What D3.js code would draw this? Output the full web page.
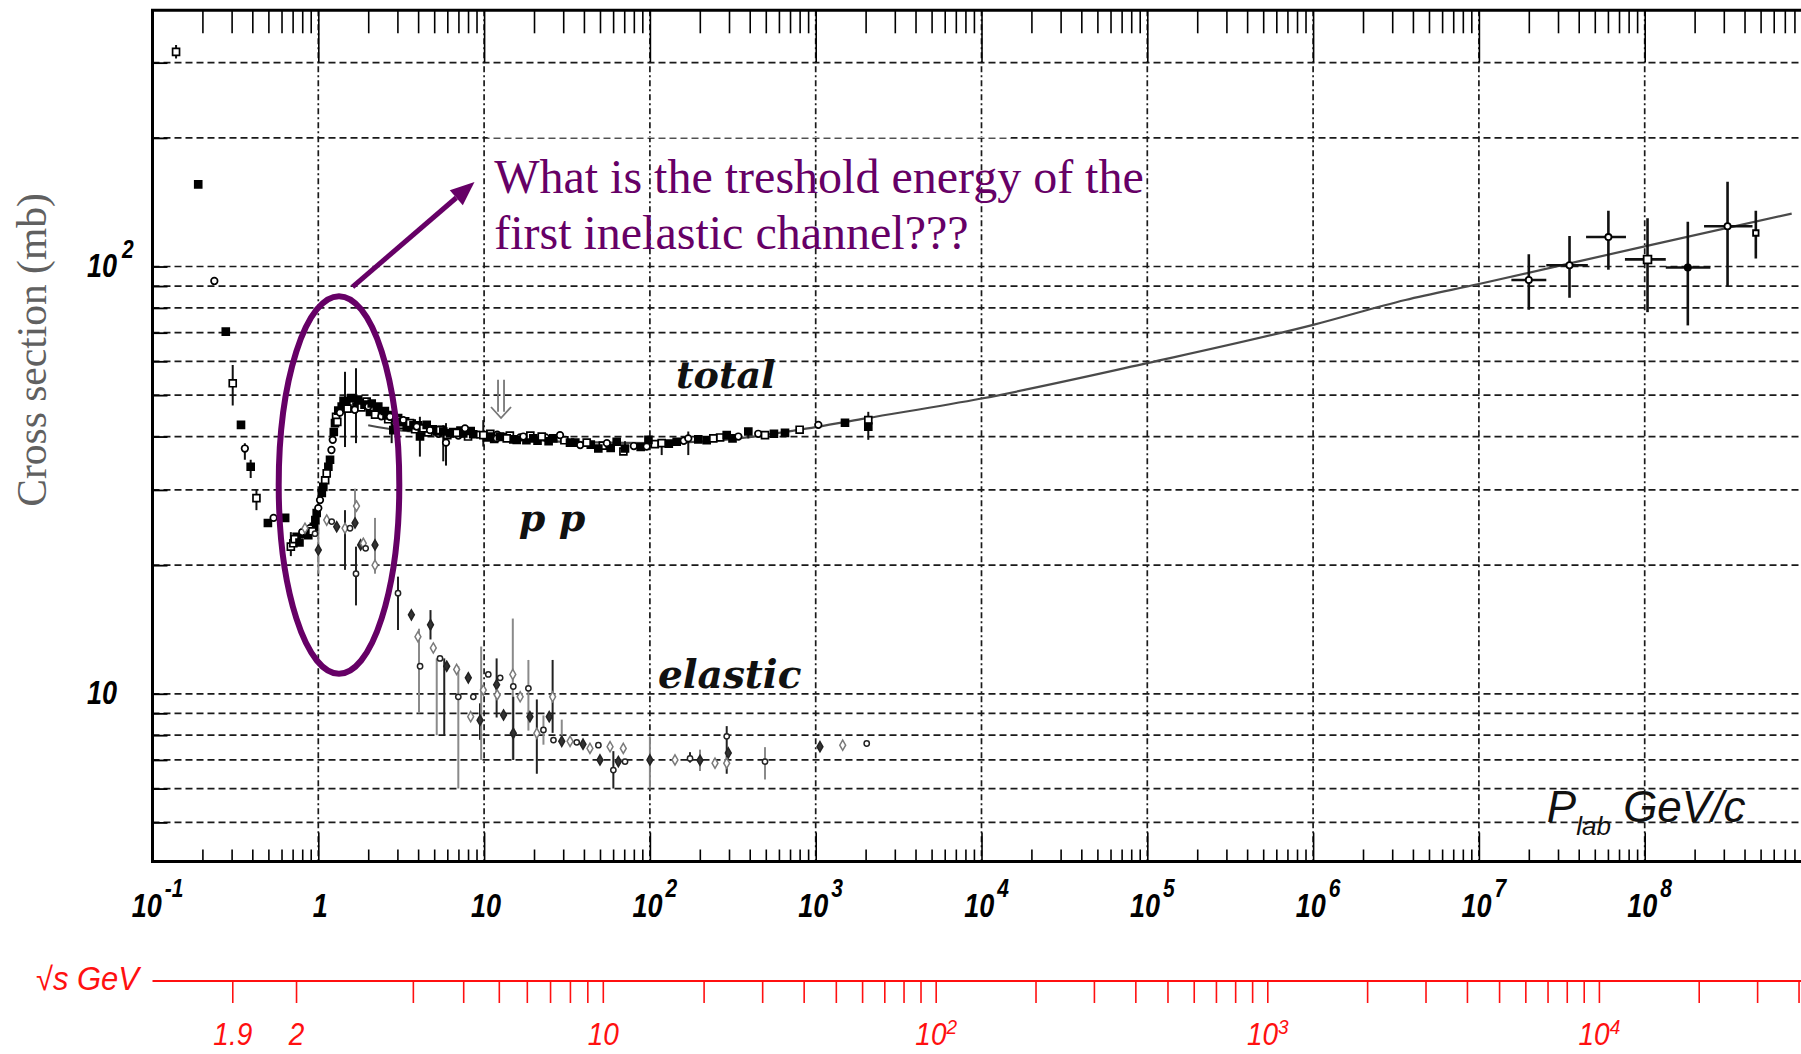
<!DOCTYPE html>
<html>
<head>
<meta charset="utf-8">
<script src="https://cdn.jsdelivr.net/npm/d3@7"></script>
<style>
  html, body { margin: 0; padding: 0; background: #fff; overflow: hidden; }
  svg { display: block; }
</style>
</head>
<body>
<svg id="chart" width="1801" height="1054"></svg>
<script>
// ---------------------------------------------------------------
// pp cross sections versus laboratory beam momentum
// ---------------------------------------------------------------

// Total cross section (momentum in GeV/c, sigma in mb)
const totalMomentum = [
  0.1387, 0.1887, 0.236, 0.2767, 0.3047, 0.3418, 0.3606, 0.391, 0.4236, 0.4966,
  0.5375, 0.631, 0.683, 0.74, 0.844, 0.94, 0.707, 0.812, 0.891, 0.978,
  0.72, 0.77, 0.80, 0.87, 0.92, 0.96, 1.0, 1.05, 1.1, 1.15,
  1.2, 1.24, 1.28, 1.32,
  1.024, 1.072, 1.124, 1.177, 1.222, 1.261, 1.302, 1.384, 1.483, 1.55,
  1.626, 1.70, 1.784, 1.86, 1.958, 2.05, 2.15, 2.25, 2.35, 2.466,
  1.35, 1.42, 1.5, 1.58, 1.66, 1.74, 1.82, 1.9, 2.0, 2.1,
  2.2, 2.3, 2.4, 2.52, 2.64, 2.77, 2.9, 3.03, 3.18, 3.34,
  3.5, 3.66, 3.84, 4.0, 4.2, 4.4, 4.6, 4.9, 5.3, 5.55,
  6.0, 6.5, 7.0, 7.2, 8.0, 8.3, 9.2, 10.4, 10.9, 11.5,
  12.0, 13.0, 14.3, 15.0, 16.5, 18.0, 19.0, 21.0, 23.5, 24.5,
  30.5, 35.5, 38.0, 44.0, 52.0, 58.0, 80, 88, 107, 130,
  160, 220, 265, 315, 450, 560, 800,
  2.58, 2.706, 2.835, 2.971, 3.1, 3.256, 3.414, 3.573, 3.75, 3.922,
  4.106, 4.299, 4.506, 4.718, 5.178, 5.42, 5.675, 5.892, 6.228, 6.835,
  7.489, 7.668, 8.6, 9.89, 11.0, 11.91, 12.47, 13.69, 15.73, 17.24,
  19.81, 22.26, 26.15, 28.7, 32.97, 41.58, 48.85, 55, 63.07, 69.2,
  70.76, 95.6, 98.0, 117.8, 145.1, 170.4, 195.8, 241.2, 290.6, 341.4,
  392.3, 494.5, 652.9, 1037, 1502, 2076, 2076
];
const totalSigma = [
  318, 155.7, 92.5, 70.4, 53.3, 42.6, 37.5, 34.0, 28.7, 25.1,
  25.8, 25.8, 22.1, 23.3, 24.2, 24.6, 22.5, 23.7, 24.4, 26.5,
  23.0, 22.6, 23.9, 23.5, 24.0, 25.5, 27.2, 29.5, 31.6, 34.0,
  37.2, 41.0, 44.5, 46.0,
  28.4, 30.5, 32.8, 35.3, 39.3, 43.0, 43.3, 47.0, 47.8, 48.3,
  47.8, 47.0, 47.8, 48.0, 48.3, 45.7, 46.6, 46.6, 45.5, 45.7,
  45.5, 48.5, 46.5, 49.2, 46.2, 48.8, 46.8, 47.5, 47.0, 47.8,
  45.0, 47.0, 44.6, 45.9, 43.9, 44.9, 43.0, 44.2, 42.6, 43.4,
  42.0, 42.9, 41.6, 42.5, 41.2, 41.9, 40.9, 41.6, 40.6, 41.5,
  40.3, 41.0, 40.2, 41.3, 40.0, 41.2, 40.4, 39.8, 40.6, 39.5,
  40.4, 39.9, 40.2, 39.4, 39.8, 39.2, 40.2, 39.1, 39.8, 39.0,
  39.2, 38.7, 38.2, 38.3, 38.1, 37.6, 38.0, 37.8, 38.4, 38.5,
  39.1, 39.2, 39.8, 39.6, 40.6, 40.6, 41.5,
  44.8, 44.5, 41.4, 43.7, 43.2, 43.7, 42.2, 43.0, 42.5, 42.2,
  40.0, 41.8, 42.6, 41.4, 41.1, 41.4, 41.1, 38.7, 40.7, 40.8,
  40.7, 41.8, 40.5, 40.3, 40.0, 39.6, 40.0, 39.6, 39.3, 40.0,
  39.6, 40.0, 39.6, 40.3, 38.7, 38.7, 37.5, 38.6, 38.9, 36.9,
  37.5, 37.9, 39.3, 38.6, 38.9, 39.6, 39.4, 39.6, 40.3, 40.0,
  41.1, 40.3, 40.8, 42.6, 43.1, 43.7, 42.2
];
// [momentum, sigma low, sigma high]
const totalErrorBars = [
  [0.1387, 307, 330], [0.3047, 47.3, 58.8], [0.3606, 35.3, 38.6], [0.391, 32.0, 35.3],
  [0.4236, 26.9, 30.0], [0.683, 21.0, 23.9], [1.449, 37.8, 56.7], [1.688, 38.6, 57.8],
  [2.77, 38.6, 43.8], [4.1, 35.9, 44.5], [5.67, 35.0, 42.5], [5.892, 34.2, 43.0],
  [9.89, 37.9, 43.7], [70.76, 36.2, 39.0], [117.8, 36.2, 39.3], [170.4, 36.2, 41.1],
  [392.3, 39.6, 41.8], [2076, 39.3, 45.7]
];

// Elastic cross section
const elasticMomentum = [
  0.831, 0.955, 1.0, 1.124, 1.205, 1.291, 1.449, 1.553, 1.665, 1.7,
  1.688, 1.80, 1.868, 1.93, 2.198, 2.198, 3.025, 3.643, 3.99, 4.11,
  4.75, 4.94, 5.42, 5.95, 6.83, 6.99, 8.03, 8.30, 8.61, 9.45,
  9.89, 10.6, 11.9, 12.0, 12.5, 13.1, 14.9, 15.0, 15.0, 16.5,
  18.5, 18.9, 20.8, 22.8, 24.7, 25.9, 26.2, 29.4, 33.0, 36.2,
  39.5, 43.5, 48.9, 50.0, 57.5, 60.2, 64.5, 69.1, 70.8, 100,
  141.7, 174.6, 200.5, 247, 290.6, 297, 290.6, 494.5, 1061, 1455,
  2031
];
const elasticSigma = [
  24.4, 23.7, 21.7, 25.5, 25.3, 24.6, 24.4, 24.4, 25.1, 27.5,
  19.1, 22.3, 22.5, 21.9, 22.3, 20.0, 17.2, 15.3, 13.6, 11.6,
  14.5, 12.8, 12.1, 11.6, 11.4, 9.84, 10.9, 8.84, 9.84, 8.67,
  10.2, 11.1, 10.5, 9.94, 10.9, 8.92, 11.1, 10.4, 8.08, 9.84,
  10.3, 8.84, 8.08, 8.23, 8.84, 9.84, 7.79, 7.74, 7.74, 7.70,
  7.62, 7.45, 7.58, 7.00, 7.52, 6.63, 6.94, 7.45, 6.94, 7.00,
  7.00, 7.06, 6.99, 6.88, 7.95, 7.27, 6.88, 6.94, 7.52, 7.58,
  7.65
];
const elasticErrorBars = [
  [1.0, 19.1, 25.5], [1.449, 19.5, 26.9], [1.665, 24.6, 30.2], [1.688, 16.1, 22.1],
  [2.198, 19.1, 25.8], [3.025, 14.1, 18.8], [4.05, 9.0, 14.2], [4.75, 13.4, 15.7],
  [5.18, 8.0, 12.1], [5.75, 8.0, 12.1], [6.99, 6.0, 11.6], [9.45, 7.8, 9.5],
  [9.6, 7.0, 12.9], [11.9, 8.8, 12.1], [14.9, 7.0, 15.0], [15.0, 7.0, 9.84],
  [18.5, 8.2, 12.0], [20.8, 6.5, 9.7], [22.8, 7.6, 8.9], [25.9, 8.1, 12.0],
  [29.4, 7.6, 8.7], [60.2, 6.0, 7.34], [100, 6.0, 7.95], [174.6, 6.9, 7.3],
  [200.5, 6.6, 7.4], [290.6, 6.5, 8.4], [494.5, 6.3, 7.5]
];

// Cosmic-ray total cross section estimates
const cosmicMomentum = [2.0e7, 3.52e7, 6.04e7, 1.04e8, 1.82e8, 3.16e8, 4.68e8];
const cosmicSigma    = [93.0, 100.7, 117.2, 103.9, 99.5, 124.2, 119.8];
const cosmicSigmaLow = [79.2, 84.5, 98.3, 78.2, 72.8, 90.0, 104.4];
const cosmicSigmaHigh = [106.9, 117.8, 135.0, 129.7, 127.2, 157.8, 135.0];
const cosmicMomentumLow  = [1.57e7, 2.55e7, 4.43e7, 7.6e7, 1.34e8, 2.28e8, null];
const cosmicMomentumHigh = [2.55e7, 4.54e7, 7.71e7, 1.34e8, 2.49e8, 4.47e8, null];

// Fit to the total cross section above 2 GeV/c
const fitMomentum = [2, 3, 5, 10, 30, 100, 300, 1000, 2000, 1e4, 1e5, 1e6, 3.6e6, 1e7, 1e8, 7.7e8];
const fitSigma    = [42.5, 41.4, 40.8, 40.2, 38.9, 38.6, 39.4, 42.1, 44.1, 49.1, 59.4, 73, 83.5, 91, 111.5, 133];

// Axis ticks
const momentumDecades = [0.1, 1, 10, 100, 1e3, 1e4, 1e5, 1e6, 1e7, 1e8];
const momentumLabels = [["10", "-1"], ["1", ""], ["10", ""], ["10", "2"], ["10", "3"],
                        ["10", "4"], ["10", "5"], ["10", "6"], ["10", "7"], ["10", "8"]];
const sigmaGrid = [5, 6, 7, 8, 9, 10, 20, 30, 40, 50, 60, 70, 80, 90, 100, 200, 300];
const sigmaLabelValues = [10, 100];
const sigmaLabels = [["10", ""], ["10", "2"]];
const sqrtSTicks = [1.9, 2, 3, 4, 5, 6, 7, 8, 9, 10, 20, 30, 40, 50, 60, 70, 80, 90, 100,
                    200, 300, 400, 500, 600, 700, 800, 900, 1000, 2000, 3000, 4000, 5000,
                    6000, 7000, 8000, 9000, 10000, 20000, 30000, 40000];
const sqrtSLabelValues = [1.9, 2, 10, 100, 1000, 10000];
const sqrtSLabels = [["1.9", ""], ["2", ""], ["10", ""], ["10", "2"], ["10", "3"], ["10", "4"]];

// ---------------------------------------------------------------
const svg = d3.select("#chart");
const plot = { left: 152.5, right: 1810.5, top: 10.3, bottom: 861.5 };

const x = d3.scaleLog().domain([0.1, 1e9]).range([plot.left, plot.right]);
const y = d3.scaleLog().domain([4.05, 397.8]).range([plot.bottom, plot.top]);

svg.append("rect").attr("width", 1801).attr("height", 1054).attr("fill", "#fff");

svg.append("defs").append("clipPath").attr("id", "plotClip")
  .append("rect")
  .attr("x", plot.left).attr("y", plot.top)
  .attr("width", plot.right - plot.left).attr("height", plot.bottom - plot.top);

// ---- grid -----------------------------------------------------
const grid = svg.append("g").attr("clip-path", "url(#plotClip)");
grid.selectAll("line.h").data(sigmaGrid).join("line")
  .attr("x1", plot.left).attr("x2", plot.right)
  .attr("y1", d => y(d)).attr("y2", d => y(d))
  .attr("stroke", "#1a1a1a").attr("stroke-width", 1.7)
  .attr("stroke-dasharray", "7,4");
grid.selectAll("line.v").data(momentumDecades.slice(1)).join("line")
  .attr("x1", d => x(d)).attr("x2", d => x(d))
  .attr("y1", plot.top).attr("y2", plot.bottom)
  .attr("stroke", "#1a1a1a").attr("stroke-width", 1.7)
  .attr("stroke-dasharray", "6,3,2,3");

// ---- axes ticks (inside the frame) ----------------------------
const minorTicks = [];
for (let e = -1; e <= 8; e++) for (let k = 2; k <= 9; k++) minorTicks.push(k * Math.pow(10, e));

function tickAxis(axisFn, yPos, values, size) {
  const g = svg.append("g").attr("transform", `translate(0,${yPos})`)
    .call(axisFn(x).tickValues(values).tickSize(size).tickFormat(""));
  g.select(".domain").remove();
  g.selectAll(".tick line").attr("stroke", "#000").attr("stroke-width", 1.6);
  return g;
}
tickAxis(d3.axisBottom, plot.top, minorTicks, 23);
tickAxis(d3.axisBottom, plot.top, momentumDecades, 52);
tickAxis(d3.axisTop, plot.bottom, minorTicks, 12);
tickAxis(d3.axisTop, plot.bottom, momentumDecades, 29);

const yTicks = svg.append("g").attr("transform", `translate(${plot.left},0)`)
  .call(d3.axisRight(y).tickValues(sigmaGrid).tickSize(15).tickFormat(""));
yTicks.select(".domain").remove();
yTicks.selectAll(".tick line").attr("stroke", "#000").attr("stroke-width", 1.8);

// frame
svg.append("path")
  .attr("d", `M${plot.right},${plot.top} H${plot.left} V${plot.bottom} H${plot.right}`)
  .attr("fill", "none").attr("stroke", "#000").attr("stroke-width", 3);

// ---- tick labels (tall italic digits) -------------------------
const numFont = "'Liberation Sans', Arial, Helvetica, sans-serif";
const stretch = 1.25;
function tallText(g, px, py, size, txt, sy) {
  return g.append("text")
    .attr("transform", `translate(${px},${py}) scale(1,${sy})`)
    .attr("font-size", size).text(txt);
}

const xLab = svg.append("g").attr("font-family", numFont)
  .attr("font-weight", "bold").attr("font-style", "italic").attr("fill", "#000");
momentumDecades.forEach((v, i) => {
  const [base, sup] = momentumLabels[i];
  const t = tallText(xLab, 0, 917, 27, base, stretch);
  const w = t.node().getComputedTextLength();
  let s = null, sw = 0;
  if (sup) {
    s = tallText(xLab, 0, 897, 21, sup, stretch);
    sw = s.node().getComputedTextLength() + 3;
  }
  const start = x(v) + (sup ? 5 : 2) - (w + sw) / 2;
  t.attr("transform", `translate(${start},917) scale(1,${stretch})`);
  if (s) s.attr("transform", `translate(${start + w + 3},897) scale(1,${stretch})`);
});

const yLab = svg.append("g").attr("font-family", numFont)
  .attr("font-weight", "bold").attr("font-style", "italic").attr("fill", "#000");
sigmaLabelValues.forEach((v, i) => {
  const [base, sup] = sigmaLabels[i];
  tallText(yLab, 117, y(v) + 10.5, 27, base, stretch).attr("text-anchor", "end");
  if (sup) tallText(yLab, 122, y(v) - 9, 21, sup, stretch);
});

svg.append("text")
  .attr("transform", "translate(46,350) rotate(-90)")
  .attr("text-anchor", "middle")
  .attr("font-family", "'Liberation Serif', 'Times New Roman', serif")
  .attr("font-size", 41.5).attr("fill", "#606060")
  .text("Cross section (mb)");

// ---- centre-of-mass energy axis -------------------------------
const protonMass = 0.938;
function momentumFromSqrtS(rs) {
  const s = rs * rs;
  const E = (s - 2 * protonMass * protonMass) / (2 * protonMass);
  return Math.sqrt(E * E - protonMass * protonMass);
}
const red = "#ff1010";
const sAxisY = 981;
const sAxis = svg.append("g");
sAxis.append("line").attr("x1", plot.left).attr("x2", 1801)
  .attr("y1", sAxisY).attr("y2", sAxisY).attr("stroke", red).attr("stroke-width", 2);
sAxis.selectAll("line.t").data(sqrtSTicks.filter(v => x(momentumFromSqrtS(v)) < 1801)).join("line")
  .attr("x1", d => x(momentumFromSqrtS(d))).attr("x2", d => x(momentumFromSqrtS(d)))
  .attr("y1", sAxisY).attr("y2", sAxisY + 22)
  .attr("stroke", red).attr("stroke-width", 1.6);
const sLab = svg.append("g").attr("font-family", numFont)
  .attr("font-style", "italic").attr("fill", red);
const sBase = 1045, sSup = 1034, sStretch = 1.1;
sqrtSLabelValues.forEach((v, i) => {
  const [base, sup] = sqrtSLabels[i];
  const cx = x(momentumFromSqrtS(v));
  const t = tallText(sLab, 0, sBase, 28, base, sStretch);
  const w = t.node().getComputedTextLength();
  let sw = 0, s = null;
  if (sup) {
    s = tallText(sLab, 0, sSup, 19, sup, sStretch);
    sw = s.node().getComputedTextLength();
  }
  const start = cx - (w + sw) / 2;
  t.attr("transform", `translate(${start},${sBase}) scale(1,${sStretch})`);
  if (s) s.attr("transform", `translate(${start + w},${sSup}) scale(1,${sStretch})`);
});
tallText(sLab, 139, 990, 31, "\u221As GeV", 1.05).attr("text-anchor", "end");

// ---- data -----------------------------------------------------
const data = svg.append("g").attr("clip-path", "url(#plotClip)");

// fit curve
const fitPoints = fitMomentum.map((p, i) => [p, fitSigma[i]]);
data.append("path")
  .attr("d", d3.line().x(d => x(d[0])).y(d => y(d[1])).curve(d3.curveMonotoneX)(fitPoints))
  .attr("fill", "none").attr("stroke", "#4a4a4a").attr("stroke-width", 2.2);

// error bars
data.selectAll("line.te").data(totalErrorBars).join("line")
  .attr("x1", d => x(d[0])).attr("x2", d => x(d[0]))
  .attr("y1", d => y(d[1])).attr("y2", d => y(d[2]))
  .attr("stroke", "#111").attr("stroke-width", 2);
data.selectAll("line.ee").data(elasticErrorBars).join("line")
  .attr("x1", d => x(d[0])).attr("x2", d => x(d[0]))
  .attr("y1", d => y(d[1])).attr("y2", d => y(d[2]))
  .attr("stroke", (d, i) => i % 2 ? "#222" : "#8a8a8a").attr("stroke-width", 2);

// markers
const symSquare = d3.symbol().type(d3.symbolSquare);
const symCircle = d3.symbol().type(d3.symbolCircle);
const symDiamond = d3.symbol().type(d3.symbolDiamond);

const totalPoints = totalMomentum.map((p, i) => ({ p, s: totalSigma[i], i }));
data.selectAll("path.tm").data(totalPoints).join("path")
  .attr("transform", d => `translate(${x(d.p)},${y(d.s)})`)
  .attr("d", d => (d.i % 4 === 2 ? symCircle.size(34) : symSquare.size(48))())
  .attr("fill", d => (d.i % 4 === 1 || d.i % 4 === 3) ? "#000" : "#fff")
  .attr("stroke", "#000").attr("stroke-width", 1.7);

const elasticPoints = elasticMomentum.map((p, i) => ({ p, s: elasticSigma[i], i }));
data.selectAll("path.em").data(elasticPoints).join("path")
  .attr("transform", d => `translate(${x(d.p)},${y(d.s)})`)
  .attr("d", d => (d.i % 3 === 1 ? symCircle.size(22) : symDiamond.size(30))())
  .attr("fill", d => d.i % 3 === 2 ? "#333" : "#fff")
  .attr("stroke", d => d.i % 3 === 0 ? "#7a7a7a" : "#222").attr("stroke-width", 1.5);

// cosmic-ray points with both error bars
const cosmic = cosmicMomentum.map((p, i) => ({
  p, s: cosmicSigma[i], lo: cosmicSigmaLow[i], hi: cosmicSigmaHigh[i],
  pl: cosmicMomentumLow[i], ph: cosmicMomentumHigh[i], i
}));
const cg = data.append("g").attr("stroke", "#111").attr("stroke-width", 2.6);
cg.selectAll("line.cv").data(cosmic).join("line")
  .attr("x1", d => x(d.p)).attr("x2", d => x(d.p))
  .attr("y1", d => y(d.lo)).attr("y2", d => y(d.hi));
cg.selectAll("line.ch").data(cosmic.filter(d => d.pl)).join("line")
  .attr("x1", d => x(d.pl)).attr("x2", d => x(d.ph))
  .attr("y1", d => y(d.s)).attr("y2", d => y(d.s));
data.selectAll("path.cm").data(cosmic).join("path")
  .attr("transform", d => `translate(${x(d.p)},${y(d.s)})`)
  .attr("d", d => (d.i === 3 ? symSquare.size(60) : d.i === 6 ? symSquare.size(30) : symCircle.size(30))())
  .attr("fill", d => d.i === 4 ? "#000" : "#fff")
  .attr("stroke", "#000").attr("stroke-width", 1.8);

// hollow down arrow marking a reference momentum
const arrowP = 12.65;
const ax = x(arrowP), aTop = y(54.3), aMid = y(45.7), aArm = y(46.9), aTip = y(44.2);
data.append("path")
  .attr("d", `M${ax - 3},${aTop} V${aMid} M${ax + 3},${aTop} V${aMid}
              M${ax - 10},${aArm} L${ax},${aTip} L${ax + 10},${aArm}`)
  .attr("fill", "none").attr("stroke", "#777").attr("stroke-width", 1.8);

// ---- curve labels ---------------------------------------------
const labFont = "'DejaVu Serif', 'Liberation Serif', serif";
function curveLabel(p, s, txt, size) {
  svg.append("text").attr("x", x(p)).attr("y", y(s))
    .attr("font-family", labFont).attr("font-style", "italic").attr("font-weight", "bold")
    .attr("font-size", size).attr("fill", "#111").text(txt);
}
curveLabel(143.7, 51.9, "total", 38);
curveLabel(16.2, 24.1, "p p", 38);
curveLabel(111.9, 10.32, "elastic", 39);

const plab = svg.append("text").attr("x", x(2.57e7)).attr("y", y(5.01))
  .attr("font-family", numFont).attr("font-style", "italic")
  .attr("font-size", 44).attr("fill", "#111");
plab.append("tspan").text("P");
plab.append("tspan").attr("font-size", 26).attr("dy", 13).text("lab");
plab.append("tspan").attr("dy", -13).text(" GeV/c");

// ---- annotation -----------------------------------------------
const purple = "#660066";
const ann = svg.append("g");

// the text box edge thins the 200 mb grid line behind the question
ann.append("line")
  .attr("x1", x(10.5)).attr("x2", x(1.5e4))
  .attr("y1", y(200) - 0.7).attr("y2", y(200) - 0.7)
  .attr("stroke", "#fff").attr("stroke-width", 1.1).attr("opacity", 0.85);

const eL = x(0.577), eR = x(3.08), eT = y(85.2), eB = y(11.14);
ann.append("ellipse")
  .attr("cx", (eL + eR) / 2).attr("cy", (eT + eB) / 2)
  .attr("rx", (eR - eL) / 2).attr("ry", (eB - eT) / 2)
  .attr("fill", "none").attr("stroke", purple).attr("stroke-width", 6);

const a0 = [x(1.61), y(89.6)], a1 = [x(8.75), y(157.6)];
const ang = Math.atan2(a1[1] - a0[1], a1[0] - a0[0]);
const headLen = 24, headW = 10;
const base = [a1[0] - headLen * Math.cos(ang), a1[1] - headLen * Math.sin(ang)];
ann.append("line")
  .attr("x1", a0[0]).attr("y1", a0[1]).attr("x2", base[0]).attr("y2", base[1])
  .attr("stroke", purple).attr("stroke-width", 5);
ann.append("path")
  .attr("d", `M${a1[0]},${a1[1]}
              L${base[0] + headW * Math.sin(ang)},${base[1] - headW * Math.cos(ang)}
              L${base[0] - headW * Math.sin(ang)},${base[1] + headW * Math.cos(ang)} Z`)
  .attr("fill", purple);

const question = ann.append("text")
  .attr("font-family", "'Liberation Serif', 'Times New Roman', serif")
  .attr("font-size", 48).attr("fill", purple);
question.append("tspan").attr("x", x(11.5)).attr("y", y(148.6)).text("What is the treshold energy of the");
question.append("tspan").attr("x", x(11.5)).attr("y", y(110)).text("first inelastic channel???");
</script>
</body>
</html>
